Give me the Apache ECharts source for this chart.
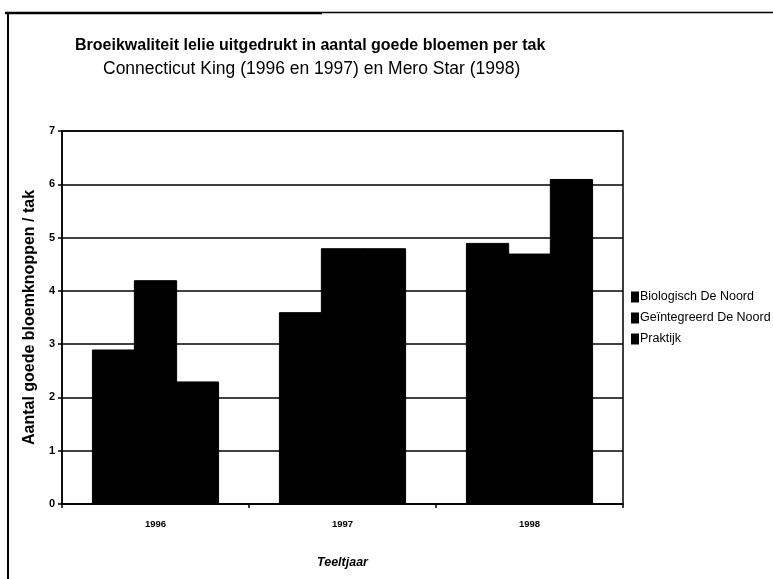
<!DOCTYPE html>
<html>
<head>
<meta charset="utf-8">
<script src="https://cdn.jsdelivr.net/npm/echarts@6/dist/echarts.min.js"></script>
<style>
  html, body { margin: 0; padding: 0; background: #fff; }
  #chart { width: 773px; height: 579px; }
</style>
</head>
<body>
<div id="chart"></div>
<script>
const years = ['1996', '1997', '1998'];
const seriesNames = ['Biologisch De Noord', 'Geïntegreerd De Noord', 'Praktijk'];
const biologisch = [2.9, 3.6, 4.9];
const geintegreerd = [4.2, 4.8, 4.7];
const praktijk = [2.3, 4.8, 6.1];
const yTicks = [0, 1, 2, 3, 4, 5, 6, 7];

const FONT = '"Liberation Sans", Arial, sans-serif';
const chart = echarts.init(document.getElementById('chart'));

const barStyle = { color: '#000', borderColor: '#000', borderWidth: 1 };

const option = {
  backgroundColor: '#fff',
  animation: false,
  textStyle: { fontFamily: FONT, color: '#000' },
  title: [
    {
      text: 'Broeikwaliteit lelie uitgedrukt in aantal goede bloemen per tak',
      left: 75, top: 38, padding: 0,
      textStyle: { fontFamily: FONT, fontSize: 16, fontWeight: 'bold', color: '#000' }
    },
    {
      text: 'Connecticut King (1996 en 1997) en Mero Star (1998)',
      left: 103, top: 60, padding: 0,
      textStyle: { fontFamily: FONT, fontSize: 17.5, fontWeight: 'normal', color: '#000' }
    }
  ],
  legend: {
    orient: 'vertical',
    left: 631, top: 290, padding: 0,
    itemWidth: 6, itemHeight: 9, itemGap: 7,
    icon: 'rect',
    data: seriesNames,
    textStyle: { fontFamily: FONT, fontSize: 12.5, lineHeight: 14, color: '#000', padding: [0, 0, 0, -3] }
  },
  grid: {
    left: 62, right: 150, top: 131, bottom: 75,
    show: true, borderColor: '#000', borderWidth: 1.5, backgroundColor: 'transparent'
  },
  xAxis: {
    type: 'category',
    data: years,
    axisLine: { lineStyle: { color: '#000', width: 1.5 } },
    axisTick: { show: true, length: 4, lineStyle: { color: '#000', width: 1.5 } },
    axisLabel: { fontFamily: FONT, fontSize: 9.5, fontWeight: 'bold', color: '#000', margin: 15 },
    name: 'Teeltjaar',
    nameLocation: 'middle',
    nameGap: 52,
    nameTextStyle: { fontFamily: FONT, fontSize: 12.5, fontWeight: 'bold', fontStyle: 'italic', color: '#000' }
  },
  yAxis: {
    type: 'value',
    min: yTicks[0], max: yTicks[yTicks.length - 1], interval: 1,
    axisLine: { show: true, lineStyle: { color: '#000', width: 1.5 } },
    axisTick: { show: true, length: 4, lineStyle: { color: '#000', width: 1.5 } },
    splitLine: { show: true, lineStyle: { color: '#000', width: 1.5 } },
    axisLabel: { fontFamily: FONT, fontSize: 11, fontWeight: 'bold', color: '#000', margin: 7 },
    name: 'Aantal goede bloemknoppen / tak',
    nameLocation: 'middle',
    nameGap: 21,
    nameTextStyle: { fontFamily: FONT, fontSize: 16, fontWeight: 'bold', color: '#000' }
  },
  series: [
    { name: seriesNames[0], type: 'bar', data: biologisch, itemStyle: barStyle, barGap: '-3%', barCategoryGap: '32%' },
    { name: seriesNames[1], type: 'bar', data: geintegreerd, itemStyle: barStyle, barGap: '-3%', barCategoryGap: '32%' },
    { name: seriesNames[2], type: 'bar', data: praktijk, itemStyle: barStyle, barGap: '-3%', barCategoryGap: '32%' }
  ],
  graphic: [
    { type: 'line', shape: { x1: 8, y1: 13, x2: 8, y2: 579 }, style: { stroke: '#000', lineWidth: 2 } },
    { type: 'line', shape: { x1: 5, y1: 13, x2: 322, y2: 13 }, style: { stroke: '#000', lineWidth: 2.5 } },
    { type: 'line', shape: { x1: 322, y1: 12.5, x2: 773, y2: 12.5 }, style: { stroke: '#000', lineWidth: 1.5 } }
  ]
};
chart.setOption(option);
</script>
</body>
</html>
